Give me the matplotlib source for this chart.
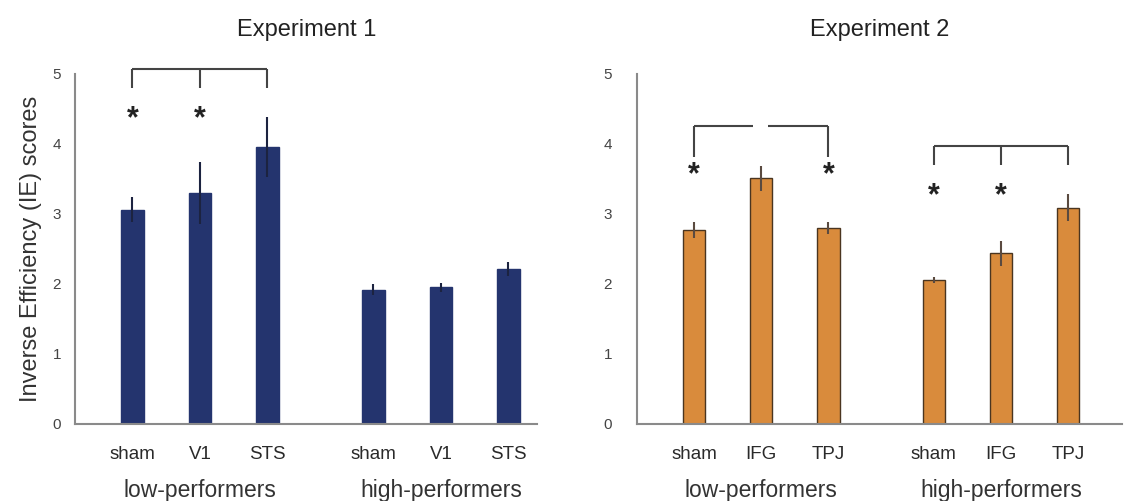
import numpy as np
import matplotlib.pyplot as plt

plt.rcParams['font.family'] = ['Liberation Sans', 'DejaVu Sans']

# data
exp1_labels = ["sham", "V1", "STS", "sham", "V1", "STS"]
exp1_means = [3.06, 3.30, 3.96, 1.92, 1.95, 2.22]
exp1_err = [0.18, 0.44, 0.43, 0.08, 0.06, 0.10]

exp2_labels = ["sham", "IFG", "TPJ", "sham", "IFG", "TPJ"]
exp2_means = [2.77, 3.51, 2.80, 2.06, 2.44, 3.09]
exp2_err = [0.11, 0.18, 0.08, 0.04, 0.18, 0.19]

groups = ["low-performers", "high-performers"]
xpos = np.array([0, 1, 2, 3.57, 4.57, 5.57])

fig = plt.figure(figsize=(11.28, 5.01), dpi=100)
ax1 = fig.add_axes([0.0665, 0.1537, 0.41, 0.6986])
ax2 = fig.add_axes([0.5647, 0.1537, 0.43, 0.6986])

navy = "#24346e"
orange = "#d98b3c"
axcol = "#8a8a8a"
txtcol = "#333333"


def setup(ax, labels, title, xmax, ypad):
    ax.set_ylim(0, 5)
    ax.set_xlim(-0.85, xmax)
    for s in ["top", "right"]:
        ax.spines[s].set_visible(False)
    for s in ["left", "bottom"]:
        ax.spines[s].set_color(axcol)
        ax.spines[s].set_linewidth(1.5)
    ax.set_yticks(range(6))
    ax.set_xticks(xpos)
    ax.set_xticklabels(labels, fontsize=13.5, color="#2a2a2a")
    ax.tick_params(axis="both", length=0, pad=16)
    ax.tick_params(axis="y", labelsize=11, labelcolor="#444444", pad=ypad)
    ax.set_title(title, fontsize=17, color="#222222", pad=27)
    for g, c in zip(groups, [1, 4.57]):
        ax.text(c, -0.95, g, ha="center", va="center", fontsize=16.5,
                color=txtcol, clip_on=False)


def bracket(ax, x0, x1, y, ydrop, mid=None, gap=None):
    kw = dict(color="#444444", lw=1.5, clip_on=False, solid_capstyle="butt")
    if gap is None:
        ax.plot([x0, x1], [y, y], **kw)
    else:
        ax.plot([x0, gap[0]], [y, y], **kw)
        ax.plot([gap[1], x1], [y, y], **kw)
    ax.plot([x0, x0], [y, ydrop], **kw)
    ax.plot([x1, x1], [y, ydrop], **kw)
    if mid is not None:
        ax.plot([mid, mid], [y, ydrop], **kw)


def star(ax, x, y):
    ax.text(x, y, "*", ha="center", va="center", fontsize=22,
            color="#222222", fontweight="semibold")


# Experiment 1
ax1.bar(xpos, exp1_means, width=0.33, color=navy, edgecolor=navy)
ax1.errorbar(xpos, exp1_means, yerr=exp1_err, fmt="none", ecolor="#1c2340",
             elinewidth=1.5, capsize=0)
setup(ax1, exp1_labels, "Experiment 1", 6.0, 10)
ax1.set_ylabel("Inverse Efficiency (IE) scores", fontsize=17, color=txtcol,
               labelpad=8)
bracket(ax1, 0, 2, 5.07, 4.8, mid=1)
star(ax1, 0, 4.36)
star(ax1, 1, 4.36)

# Experiment 2
ax2.bar(xpos, exp2_means, width=0.33, color=orange, edgecolor="#4a3520",
        linewidth=1)
ax2.errorbar(xpos, exp2_means, yerr=exp2_err, fmt="none", ecolor="#5a4a40",
             elinewidth=1.5, capsize=0)
setup(ax2, exp2_labels, "Experiment 2", 6.37, 18)
bracket(ax2, 0, 2, 4.26, 3.81, gap=(0.88, 1.1))
star(ax2, 0, 3.55)
star(ax2, 2, 3.55)
bracket(ax2, 3.57, 5.57, 3.97, 3.7, mid=4.57)
star(ax2, 3.57, 3.25)
star(ax2, 4.57, 3.25)

fig.savefig("out.png", dpi=100)
